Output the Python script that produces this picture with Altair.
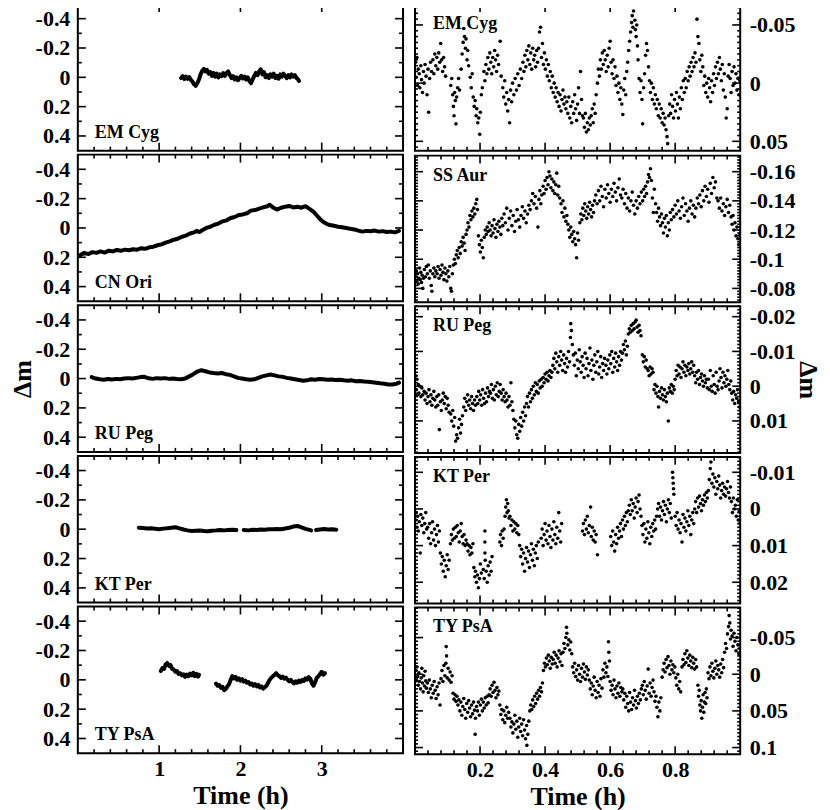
import math
import altair as alt
import pandas as pd

FONT = "Liberation Serif"
NAMES = ["EM Cyg", "CN Ori", "RU Peg", "KT Per", "TY PsA"]
RIGHT_NAMES = ["EM Cyg", "SS Aur", "RU Peg", "KT Per", "TY PsA"]

# ---------------- left column: (time [h], dm [0.001 mag]) ----------------
EMCYG_L = [(1.27,5),(1.29,-8),(1.31,12),(1.33,-4),(1.35,10),(1.37,-2),(1.39,18),(1.41,30),(1.43,48),(1.45,58),(1.47,40),(1.49,15),(1.51,-20),(1.53,-45),(1.55,-58),(1.57,-40),(1.59,-50),(1.61,-25),(1.63,-35),(1.65,-10),(1.67,-30),(1.69,-5),(1.71,-25),(1.73,0),(1.75,-20),(1.77,-8),(1.79,-28),(1.81,-10),(1.83,-30),(1.85,-40),(1.87,-15),(1.89,5),(1.91,-8),(1.93,15),(1.95,0),(1.97,20),(1.99,5),(2.01,-10),(2.03,8),(2.05,-5),(2.07,15),(2.09,0),(2.11,25),(2.13,40),(2.15,15),(2.17,-10),(2.19,-30),(2.21,-15),(2.23,-40),(2.25,-55),(2.27,-20),(2.29,-35),(2.31,0),(2.33,-15),(2.35,5),(2.37,-20),(2.39,-5),(2.41,-25),(2.43,5),(2.45,-10),(2.47,10),(2.49,-20),(2.51,-5),(2.53,-25),(2.55,-10),(2.57,5),(2.59,-15),(2.61,0),(2.63,-20),(2.65,-5),(2.67,-15),(2.69,5),(2.71,15),(2.72,25)]
CNORI_L = [(0.03,185),(0.08,170),(0.13,178),(0.18,165),(0.23,170),(0.28,160),(0.33,168),(0.38,155),(0.43,160),(0.48,150),(0.53,156),(0.58,148),(0.63,152),(0.68,145),(0.73,148),(0.78,138),(0.83,142),(0.88,132),(0.93,128),(0.98,118),(1.03,112),(1.08,100),(1.13,92),(1.18,80),(1.23,74),(1.28,60),(1.33,52),(1.38,38),(1.43,30),(1.46,20),(1.50,28),(1.53,15),(1.58,0),(1.63,-8),(1.68,-22),(1.73,-30),(1.78,-45),(1.83,-52),(1.88,-68),(1.93,-75),(1.98,-88),(2.03,-92),(2.08,-100),(2.13,-118),(2.18,-122),(2.23,-132),(2.28,-140),(2.33,-148),(2.36,-158),(2.40,-140),(2.45,-125),(2.50,-138),(2.55,-145),(2.60,-150),(2.65,-140),(2.70,-145),(2.75,-138),(2.80,-148),(2.85,-130),(2.90,-110),(2.94,-85),(2.98,-60),(3.02,-40),(3.06,-28),(3.10,-20),(3.15,-15),(3.20,-8),(3.25,-5),(3.30,0),(3.35,5),(3.40,10),(3.45,18),(3.50,25),(3.55,20),(3.60,22),(3.65,18),(3.70,25),(3.75,22),(3.80,28),(3.85,25),(3.90,30),(3.95,20)]
RUPEG_L = [(0.17,-10),(0.22,0),(0.27,5),(0.32,8),(0.37,3),(0.42,6),(0.47,2),(0.52,5),(0.57,0),(0.62,-3),(0.67,0),(0.72,-5),(0.77,-10),(0.82,-12),(0.87,-2),(0.92,2),(0.97,-3),(1.02,0),(1.07,-3),(1.12,2),(1.17,0),(1.22,3),(1.27,5),(1.32,0),(1.37,-15),(1.42,-30),(1.47,-48),(1.52,-57),(1.57,-50),(1.62,-42),(1.67,-38),(1.72,-35),(1.77,-38),(1.82,-30),(1.87,-25),(1.92,-15),(1.97,-5),(2.02,0),(2.07,5),(2.12,8),(2.17,5),(2.22,-5),(2.27,-15),(2.32,-22),(2.37,-28),(2.42,-22),(2.47,-15),(2.52,-12),(2.57,-5),(2.62,0),(2.67,5),(2.72,10),(2.77,15),(2.82,12),(2.87,5),(2.92,8),(2.97,3),(3.02,5),(3.07,8),(3.12,6),(3.17,10),(3.22,8),(3.27,12),(3.32,15),(3.37,12),(3.42,18),(3.47,16),(3.52,20),(3.57,22),(3.62,25),(3.67,28),(3.72,32),(3.77,35),(3.82,40),(3.87,40),(3.92,35),(3.95,28)]
KTPER_L1 = [(0.75,-10),(0.80,-8),(0.85,-5),(0.90,-6),(0.95,-3),(1.00,0),(1.05,-4),(1.10,-6),(1.15,-10),(1.20,-13),(1.25,-6),(1.30,2),(1.35,8),(1.40,12),(1.45,10),(1.50,9),(1.55,12),(1.60,14),(1.65,10),(1.70,8),(1.75,5),(1.80,8),(1.85,5),(1.90,4),(1.95,6)]
KTPER_L2 = [(2.04,5),(2.10,8),(2.15,4),(2.20,5),(2.25,2),(2.30,3),(2.35,1),(2.40,0),(2.45,-2),(2.50,0),(2.55,-5),(2.60,-10),(2.65,-18),(2.70,-22),(2.75,-12),(2.80,-2),(2.85,5),(2.87,8)]
KTPER_L3 = [(2.93,6),(2.98,2),(3.03,-2),(3.08,2),(3.13,0),(3.18,3)]
TYPSA_L1 = [(1.02,-60),(1.04,-80),(1.06,-75),(1.08,-105),(1.10,-115),(1.12,-95),(1.14,-100),(1.16,-75),(1.18,-70),(1.20,-55),(1.22,-60),(1.24,-40),(1.26,-45),(1.28,-30),(1.30,-38),(1.32,-20),(1.34,-35),(1.36,-25),(1.38,-42),(1.40,-30),(1.42,-48),(1.44,-25),(1.46,-40),(1.48,-22),(1.49,-35)]
TYPSA_L2 = [(1.70,25),(1.72,40),(1.74,35),(1.76,55),(1.78,48),(1.80,70),(1.82,62),(1.84,45),(1.86,30),(1.88,0),(1.90,-25),(1.92,-10),(1.94,-20),(1.96,0),(1.98,-10),(2.00,5),(2.02,-5),(2.04,12),(2.06,5),(2.08,20),(2.10,15),(2.12,32),(2.14,25),(2.16,40),(2.18,30),(2.20,45),(2.22,35),(2.24,52),(2.26,45),(2.28,60),(2.30,50),(2.32,40),(2.34,20),(2.36,0),(2.38,-15),(2.40,-25),(2.42,-35),(2.44,-45),(2.46,-30),(2.48,-25),(2.50,-12),(2.52,-22),(2.54,-8),(2.56,-15),(2.58,0),(2.60,10),(2.62,0),(2.64,15),(2.66,25),(2.68,10),(2.70,20),(2.72,5),(2.74,15),(2.76,0),(2.78,8),(2.80,-10),(2.82,-2),(2.84,-18),(2.86,-8),(2.88,25),(2.90,40),(2.92,15),(2.94,-15),(2.96,-25),(2.98,-40),(3.00,-55),(3.02,-35),(3.04,-45)]

# ---------------- right column: (time [0.001 h], dm [0.0001 mag]) ----------------
EMCYG_R = [(2,-180),(4,-50),(6,-220),(8,20),(10,-120),(13,-80),(15,40),(18,-150),(20,-30),(23,80),(26,-100),(28,0),(31,-160),(34,-60),(37,100),(40,-120),(42,250),(45,-40),(48,-180),(51,-100),(55,-200),(58,-80),(61,-250),(64,-150),(67,-220),(70,-120),(73,-260),(76,-180),(79,-340),(82,-200),(85,-100),(88,-220),(91,-140),(94,-60),(110,20),(113,-40),(116,100),(118,200),(120,280),(122,80),(124,150),(126,350),(128,120),(131,40),(134,-40),(137,60),(142,-120),(145,-250),(148,-350),(150,-470),(152,-400),(155,-300),(157,-380),(160,-200),(162,-280),(165,-150),(170,-50),(173,40),(176,-80),(179,120),(182,200),(185,150),(188,280),(190,220),(193,340),(196,300),(199,440),(201,250),(204,100),(207,40),(212,-100),(215,-20),(218,-160),(221,-80),(224,-220),(227,-120),(230,-260),(233,-180),(236,-80),(239,-220),(242,-140),(245,-280),(248,-200),(251,-100),(254,-240),(257,-160),(262,-360),(265,-60),(270,40),(273,120),(276,-20),(279,180),(282,80),(285,240),(288,140),(291,340),(294,60),(297,160),(300,0),(304,100),(308,-40),(312,60),(316,-80),(320,20),(324,-120),(328,-40),(332,-180),(335,-100),(338,-240),(341,-140),(344,-280),(347,-200),(350,-320),(353,-160),(356,-260),(359,-120),(362,-300),(365,-200),(368,-240),(371,-140),(374,-280),(377,-180),(380,-300),(383,-440),(386,-480),(389,-220),(392,-340),(395,-160),(398,-260),(401,-120),(404,-200),(407,-60),(410,-160),(413,-20),(416,-100),(419,40),(422,-60),(425,80),(428,0),(431,120),(434,40),(437,160),(440,80),(443,200),(446,100),(449,240),(452,140),(455,60),(458,180),(461,120),(464,220),(467,160),(470,260),(473,120),(476,300),(479,200),(482,340),(485,160),(488,260),(491,100),(494,220),(497,320),(500,180),(503,40),(506,260),(509,-100),(512,140),(515,280),(518,300),(521,380),(524,260),(527,420),(530,340),(533,400),(536,300),(539,360),(542,280),(545,220),(548,340),(551,180),(554,260),(557,100),(561,0),(564,-120),(567,-60),(570,-200),(573,-120),(576,-260),(579,-160),(582,-280),(585,-200),(588,-100),(591,-240),(594,-140),(597,-300),(600,-360),(603,-180),(606,-80),(609,-200),(612,-40),(615,-140),(618,20),(621,-60),(624,80),(627,0),(630,140),(633,40),(636,180),(639,270),(642,60),(645,-40),(648,100),(651,-100),(654,-180),(657,-280),(660,-360),(663,-440),(666,-520),(668,-580),(670,-480),(672,-620),(674,-660),(676,-540),(678,-460),(680,-400),(682,-500),(684,-320),(686,-200),(689,-40),(692,80),(695,-20),(698,140),(700,350),(703,40),(706,-80),(709,-240),(712,-340),(715,-280),(718,-140),(721,-20),(724,80),(727,0),(730,140),(733,40),(736,180),(739,100),(742,220),(745,140),(748,280),(751,180),(754,300),(757,220),(760,340),(763,260),(766,360),(769,300),(772,400),(775,460),(777,520),(780,280),(783,180),(786,260),(789,100),(792,200),(795,300),(798,140),(801,240),(804,80),(807,180),(810,300),(813,120),(816,220),(819,40),(822,140),(825,-20),(828,80),(831,-40),(834,40),(837,-100),(840,-20),(843,-140),(846,-60),(849,-180),(852,-100),(855,-220),(858,-140),(861,-260),(864,-180),(867,-550),(870,-400),(873,-340),(876,-200),(879,-100),(882,-240),(885,-140),(888,20),(891,-60),(894,80),(897,0),(900,120),(903,-40),(906,40),(909,160),(912,-20),(915,80),(918,-80),(921,20),(924,-140),(927,-40),(930,-180),(933,-80),(936,-220),(939,-120),(942,-20),(945,-160),(948,60),(951,-80),(954,120),(957,300),(960,220),(963,-60),(966,-160),(969,-40),(972,80),(975,-100),(978,20),(981,-140),(984,0),(987,-80),(990,60),(993,-40),(996,100),(999,-20)]
SSAUR_R = [(2,-880),(4,-920),(6,-850),(8,-900),(10,-830),(12,-870),(14,-940),(16,-860),(18,-910),(20,-840),(22,-890),(24,-800),(26,-870),(29,-930),(32,-880),(35,-950),(38,-900),(41,-960),(44,-870),(47,-920),(50,-820),(52,-780),(55,-900),(58,-940),(61,-880),(64,-920),(68,-900),(71,-950),(74,-870),(77,-930),(80,-890),(83,-960),(86,-910),(89,-860),(92,-940),(95,-900),(98,-850),(101,-920),(104,-880),(107,-950),(110,-800),(112,-780),(115,-900),(118,-960),(121,-1000),(124,-970),(127,-1030),(130,-1060),(133,-1010),(136,-1080),(139,-1040),(142,-1120),(145,-1090),(148,-1150),(151,-1110),(154,-1060),(157,-1170),(160,-1200),(163,-1250),(166,-1220),(169,-1300),(172,-1270),(175,-1330),(178,-1290),(181,-1350),(184,-1310),(187,-1380),(190,-1410),(192,-1340),(195,-1160),(198,-1100),(201,-1050),(204,-1130),(207,-1080),(210,-1010),(213,-1150),(216,-1200),(219,-1170),(222,-1220),(225,-1190),(228,-1250),(231,-1200),(234,-1160),(237,-1230),(240,-1180),(243,-1270),(246,-1210),(249,-1150),(252,-1240),(255,-1190),(258,-1260),(261,-1220),(264,-1170),(267,-1280),(270,-1230),(274,-1310),(278,-1250),(282,-1350),(286,-1200),(290,-1280),(294,-1330),(298,-1230),(302,-1300),(306,-1190),(310,-1260),(314,-1340),(318,-1270),(322,-1220),(326,-1300),(330,-1360),(334,-1280),(338,-1330),(342,-1250),(346,-1310),(350,-1370),(354,-1340),(358,-1400),(362,-1450),(366,-1380),(370,-1430),(374,-1350),(378,-1220),(381,-1410),(384,-1470),(387,-1380),(390,-1440),(394,-1500),(397,-1450),(400,-1540),(403,-1480),(406,-1560),(409,-1510),(412,-1600),(415,-1570),(418,-1490),(421,-1550),(424,-1470),(427,-1530),(430,-1450),(433,-1510),(436,-1590),(439,-1440),(442,-1500),(445,-1420),(449,-1380),(452,-1320),(455,-1400),(458,-1290),(461,-1350),(464,-1260),(467,-1300),(470,-1240),(473,-1200),(476,-1150),(479,-1220),(482,-1170),(485,-1120),(488,-1190),(491,-1140),(494,-1100),(497,-1010),(500,-1180),(503,-1130),(507,-1250),(510,-1310),(513,-1270),(516,-1350),(519,-1300),(522,-1380),(525,-1330),(528,-1280),(531,-1360),(534,-1310),(537,-1390),(540,-1340),(543,-1290),(546,-1370),(549,-1320),(552,-1400),(556,-1440),(560,-1380),(564,-1470),(568,-1400),(572,-1500),(576,-1430),(580,-1360),(584,-1480),(588,-1420),(592,-1510),(596,-1450),(600,-1390),(604,-1480),(608,-1430),(612,-1520),(616,-1460),(620,-1400),(624,-1490),(628,-1550),(632,-1440),(636,-1420),(640,-1480),(644,-1380),(648,-1450),(652,-1350),(656,-1420),(660,-1330),(664,-1400),(668,-1460),(672,-1370),(676,-1310),(680,-1400),(684,-1350),(688,-1430),(692,-1380),(696,-1460),(700,-1400),(703,-1480),(706,-1430),(709,-1500),(712,-1450),(715,-1530),(718,-1580),(721,-1560),(724,-1620),(727,-1540),(730,-1420),(733,-1320),(736,-1480),(740,-1380),(743,-1320),(746,-1260),(749,-1350),(752,-1290),(755,-1230),(758,-1310),(761,-1250),(764,-1180),(767,-1280),(770,-1220),(773,-1300),(776,-1160),(779,-1250),(782,-1200),(785,-1320),(788,-1270),(792,-1340),(796,-1290),(800,-1370),(804,-1310),(808,-1400),(812,-1330),(816,-1280),(820,-1360),(824,-1420),(828,-1300),(832,-1380),(836,-1330),(840,-1260),(844,-1350),(848,-1400),(852,-1310),(856,-1370),(860,-1290),(864,-1350),(868,-1420),(872,-1380),(876,-1440),(880,-1360),(884,-1470),(888,-1400),(892,-1500),(896,-1430),(900,-1480),(904,-1390),(908,-1520),(912,-1450),(916,-1560),(920,-1490),(924,-1530),(928,-1420),(932,-1400),(936,-1350),(940,-1420),(944,-1330),(948,-1380),(952,-1300),(956,-1360),(960,-1410),(964,-1320),(968,-1370),(972,-1290),(975,-1240),(978,-1300),(981,-1200),(984,-1250),(987,-1160),(990,-1220),(993,-1140),(996,-1100),(999,-1170)]
RUPEG_R = [(2,-30),(4,10),(6,-20),(8,25),(10,-5),(12,20),(15,0),(18,30),(21,5),(24,25),(28,15),(31,40),(34,20),(37,50),(40,30),(43,10),(46,45),(49,25),(52,55),(55,35),(58,15),(61,40),(64,60),(67,30),(70,55),(73,25),(75,125),(78,45),(81,70),(84,40),(87,20),(90,50),(93,30),(96,65),(99,35),(102,55),(105,75),(110,80),(113,100),(116,70),(119,115),(122,90),(125,158),(128,140),(131,150),(134,120),(137,95),(140,135),(143,110),(146,85),(150,60),(153,35),(156,70),(159,45),(162,25),(165,55),(168,40),(171,65),(174,30),(177,50),(180,70),(183,40),(186,55),(190,30),(193,50),(196,15),(199,40),(202,25),(205,55),(208,10),(211,35),(214,50),(217,20),(220,45),(223,5),(226,30),(229,15),(232,20),(235,-5),(238,35),(241,10),(244,40),(247,0),(250,25),(253,-10),(256,30),(259,15),(262,-5),(265,20),(268,40),(271,10),(274,30),(277,45),(280,20),(283,40),(286,60),(289,30),(292,55),(295,-10),(298,45),(301,70),(304,95),(307,120),(310,100),(313,140),(316,150),(319,110),(322,130),(325,90),(328,115),(331,75),(334,100),(337,60),(340,85),(343,50),(346,30),(349,60),(352,20),(355,45),(358,10),(361,35),(364,0),(367,25),(370,-10),(373,15),(376,-5),(379,20),(382,-15),(385,5),(388,-20),(391,0),(394,-25),(397,-10),(400,-35),(403,-20),(406,-40),(409,-15),(412,-30),(415,-45),(418,-25),(421,-40),(424,-60),(427,-80),(430,-50),(433,-95),(436,-70),(439,-40),(442,-85),(445,-60),(448,-100),(451,-75),(454,-45),(457,-90),(460,-65),(463,-40),(466,-80),(469,-55),(472,-100),(475,-70),(478,-140),(479,-180),(481,-160),(484,-120),(487,-90),(490,-60),(493,-95),(496,-30),(499,-75),(502,-50),(505,-105),(508,-70),(511,-40),(514,-85),(517,-60),(520,-25),(523,-95),(526,-50),(529,-80),(532,-30),(535,-65),(538,-110),(541,-45),(544,-75),(547,-20),(550,-60),(553,-90),(556,-40),(559,-70),(562,-100),(565,-35),(568,-55),(571,-85),(574,-25),(577,-65),(580,-45),(583,-80),(587,-60),(590,-35),(593,-75),(596,-50),(599,-90),(602,-65),(605,-100),(608,-40),(611,-80),(614,-55),(617,-95),(620,-70),(623,-45),(626,-85),(629,-60),(632,-100),(635,-75),(638,-95),(641,-120),(644,-105),(647,-130),(650,-90),(653,-115),(656,-150),(659,-165),(662,-155),(665,-175),(668,-160),(671,-180),(674,-165),(677,-185),(680,-190),(683,-170),(686,-155),(689,-175),(692,-160),(695,-145),(699,-90),(702,-70),(705,-85),(708,-55),(711,-75),(714,-50),(717,-45),(720,-30),(723,-55),(726,-35),(729,-50),(732,-40),(735,10),(738,-5),(741,20),(744,0),(747,30),(749,60),(752,15),(755,35),(758,5),(761,25),(764,40),(767,10),(770,30),(773,45),(776,20),(779,100),(782,5),(785,15),(788,-5),(791,20),(794,0),(797,10),(800,-20),(803,-45),(806,-30),(809,-60),(812,-35),(815,-55),(818,-25),(821,-50),(824,-70),(827,-40),(830,-60),(833,-30),(836,-55),(839,-45),(842,-65),(845,-35),(848,-50),(851,-70),(854,-40),(857,-60),(860,-30),(863,-10),(866,-40),(869,-20),(872,-45),(875,-5),(878,-25),(881,-35),(884,-15),(887,0),(890,-30),(893,-10),(896,-20),(899,5),(902,-20),(905,10),(908,-45),(911,0),(914,15),(917,-30),(920,-5),(923,20),(926,-40),(929,0),(932,10),(935,-15),(938,-50),(941,-25),(944,5),(947,-40),(950,-10),(953,-30),(956,0),(959,-20),(962,-45),(965,-5),(968,10),(971,-15),(974,20),(977,40),(980,15),(983,50),(986,25),(989,35),(992,10),(995,45),(998,60)]
KTPER_R = [(2,30),(4,10),(6,50),(8,20),(10,60),(13,35),(16,120),(18,15),(21,45),(24,25),(27,65),(30,40),(33,10),(36,55),(39,50),(42,80),(45,40),(48,95),(51,65),(54,35),(57,85),(60,55),(63,100),(66,70),(69,45),(72,90),(75,60),(78,120),(81,150),(84,130),(87,170),(90,140),(93,185),(96,155),(99,125),(102,165),(105,140),(109,95),(112,70),(115,85),(118,55),(121,80),(124,50),(127,75),(130,45),(133,65),(136,90),(139,60),(142,40),(145,75),(148,95),(151,70),(154,100),(157,85),(160,95),(163,115),(166,100),(169,125),(172,105),(175,120),(178,95),(181,160),(184,185),(186,170),(189,200),(192,180),(195,215),(198,190),(201,150),(204,175),(210,165),(213,190),(215,60),(215,90),(215,120),(216,140),(219,170),(222,200),(225,155),(228,180),(231,145),(234,170),(237,130),(261,90),(263,70),(266,100),(268,60),(271,80),(274,55),(277,20),(279,-5),(281,-25),(283,10),(285,-15),(287,5),(289,25),(292,20),(295,45),(298,30),(301,60),(304,35),(307,55),(310,40),(313,65),(316,45),(319,70),(322,100),(325,130),(328,110),(331,150),(334,120),(337,170),(340,135),(343,105),(346,145),(349,115),(352,160),(355,125),(358,95),(361,140),(364,110),(367,155),(370,120),(373,100),(376,135),(379,90),(388,80),(391,55),(394,100),(397,70),(400,40),(403,85),(406,60),(409,95),(412,45),(415,75),(418,105),(421,55),(424,85),(427,35),(430,70),(433,95),(436,50),(439,80),(442,10),(445,60),(448,90),(451,40),(515,60),(518,40),(521,70),(524,30),(527,55),(530,20),(533,65),(536,45),(540,-5),(542,75),(545,50),(548,85),(551,60),(554,90),(557,70),(561,125),(602,75),(605,100),(608,60),(611,90),(614,115),(617,70),(620,95),(623,50),(626,80),(629,60),(632,40),(635,75),(638,30),(641,55),(644,20),(647,45),(650,10),(653,35),(656,5),(659,-10),(662,15),(665,-25),(668,5),(671,-15),(674,25),(677,-5),(680,-30),(683,10),(686,-20),(689,-38),(692,0),(695,20),(698,45),(701,70),(704,40),(707,90),(710,55),(713,80),(716,35),(719,65),(722,95),(725,50),(728,75),(731,40),(734,60),(737,30),(740,55),(743,20),(746,0),(749,-15),(752,20),(755,-5),(758,30),(761,5),(764,-20),(767,15),(770,-10),(773,35),(776,0),(779,-25),(782,10),(785,-15),(788,25),(792,-100),(793,-85),(794,-70),(795,-55),(796,-40),(800,20),(803,45),(806,10),(809,55),(812,30),(815,65),(818,40),(821,90),(824,15),(827,50),(830,25),(833,60),(836,35),(839,5),(842,45),(845,20),(848,70),(851,30),(854,10),(857,40),(860,0),(863,-20),(866,10),(869,-30),(872,-5),(875,-35),(878,-15),(881,5),(884,-25),(887,-10),(890,-38),(893,-20),(896,-45),(899,-30),(902,-50),(905,-80),(908,-110),(910,-128),(913,-70),(916,-95),(919,-60),(922,-85),(925,-40),(928,-75),(931,-55),(934,-90),(937,-65),(940,-30),(943,-50),(946,-70),(949,-40),(952,-60),(955,-35),(958,-55),(961,-75),(964,-45),(967,-30),(970,-60),(973,-20),(976,10),(979,-30),(982,0),(985,-10),(988,20),(991,-25),(994,30),(997,5),(999,40)]
TYPSA_R = [(2,-50),(4,80),(6,-100),(8,30),(10,150),(12,-20),(14,100),(17,200),(19,50),(21,-80),(23,120),(25,240),(27,20),(29,160),(31,-40),(33,90),(35,190),(38,120),(41,250),(44,80),(47,200),(50,320),(53,150),(56,260),(59,100),(62,220),(65,330),(68,170),(71,280),(74,120),(77,420),(80,60),(83,-50),(86,100),(89,-120),(92,20),(95,-150),(96,-377),(97,-250),(99,50),(102,-80),(105,80),(108,-30),(111,110),(114,20),(117,260),(120,340),(123,280),(126,370),(129,300),(132,420),(135,350),(138,500),(141,380),(144,560),(147,440),(150,330),(153,480),(156,600),(159,400),(162,520),(165,360),(168,460),(171,580),(174,420),(177,540),(180,380),(183,490),(185,820),(186,600),(189,440),(192,500),(195,380),(198,560),(201,420),(204,340),(207,500),(210,380),(213,460),(216,320),(219,420),(222,300),(225,390),(228,280),(231,200),(234,300),(237,150),(240,250),(243,110),(246,220),(249,320),(252,180),(255,280),(258,230),(261,420),(264,550),(267,480),(270,620),(273,500),(276,660),(279,560),(282,450),(285,600),(288,520),(292,600),(295,720),(298,650),(301,800),(304,680),(307,560),(310,750),(313,640),(316,860),(319,720),(322,600),(325,780),(328,680),(331,840),(334,620),(337,760),(340,880),(343,700),(344,970),(347,820),(350,640),(353,500),(356,420),(359,480),(362,350),(365,440),(368,300),(371,400),(374,260),(377,340),(380,220),(383,300),(386,180),(389,240),(392,120),(395,-50),(398,-150),(401,-100),(404,-220),(407,-130),(410,-260),(413,-180),(416,-80),(419,-230),(422,-140),(425,-200),(428,-300),(431,-150),(434,-260),(437,-100),(440,-220),(443,-320),(446,-170),(449,-280),(452,-120),(455,-300),(458,-420),(461,-350),(464,-500),(466,-640),(467,-560),(470,-400),(473,-470),(476,-330),(479,-440),(482,-280),(485,-100),(488,-20),(491,-150),(494,30),(497,-60),(500,80),(503,-120),(506,0),(509,100),(512,-80),(515,40),(518,-140),(521,-30),(524,70),(527,-100),(530,10),(533,-60),(536,80),(539,200),(542,120),(545,280),(548,160),(551,40),(554,220),(557,320),(560,100),(563,250),(566,150),(569,300),(572,60),(575,190),(578,-60),(581,40),(584,-150),(587,-20),(590,-100),(593,30),(595,-444),(596,-300),(598,-180),(600,100),(603,220),(606,150),(609,280),(612,80),(615,200),(618,320),(621,160),(624,260),(627,120),(630,300),(633,180),(636,240),(639,200),(642,350),(645,260),(648,450),(651,300),(654,400),(657,500),(660,250),(663,380),(666,480),(669,320),(672,420),(675,220),(678,360),(681,460),(684,300),(687,400),(690,260),(693,350),(696,200),(699,150),(702,280),(705,100),(708,220),(711,340),(714,160),(717,-70),(720,260),(723,120),(726,300),(729,180),(732,80),(735,240),(738,370),(741,300),(744,450),(747,580),(750,380),(753,500),(756,320),(760,40),(763,-60),(766,-150),(769,-30),(772,-200),(775,-90),(778,-240),(781,-120),(784,0),(787,-180),(790,-60),(793,-130),(796,-20),(799,-100),(802,50),(805,150),(808,0),(811,200),(814,100),(817,240),(821,-100),(824,-200),(827,-130),(830,-280),(833,-160),(836,-320),(839,-220),(842,-120),(845,-260),(848,-180),(851,-90),(854,-230),(857,-150),(860,-70),(863,-200),(866,-100),(870,150),(872,300),(874,220),(876,420),(878,500),(880,360),(882,600),(884,450),(886,280),(888,520),(890,380),(892,250),(894,400),(896,200),(898,320),(901,-20),(904,60),(907,-100),(910,20),(913,-150),(916,-40),(919,50),(922,-80),(925,-180),(928,0),(931,-120),(934,-60),(937,40),(940,-140),(943,-20),(946,-200),(949,-90),(952,-300),(955,-420),(958,-350),(961,-550),(964,-650),(966,-800),(968,-700),(970,-480),(972,-600),(975,-520),(978,-380),(981,-560),(984,-450),(987,-320),(990,-500),(993,-400),(996,-280),(999,-350)]

LEFT_SERIES = [[EMCYG_L], [CNORI_L], [RUPEG_L], [KTPER_L1, KTPER_L2, KTPER_L3], [TYPSA_L1, TYPSA_L2]]
RIGHT_SERIES = [EMCYG_R, SSAUR_R, RUPEG_R, KTPER_R, TYPSA_R]

# ---------------- axes ----------------
LEFT_X_DOMAIN = [0, 4]
LEFT_X_MAJOR = [1, 2, 3]
LEFT_X_MINOR = [round(0.2 * i, 2) for i in range(1, 20) if i % 5]
LEFT_Y_DOMAIN = [-0.5, 0.5]
LEFT_Y_MAJOR = [-0.4, -0.2, 0, 0.2, 0.4]
LEFT_Y_MINOR = [-0.3, -0.1, 0.1, 0.3]

RIGHT_X_DOMAIN = [0, 1]
RIGHT_X_MAJOR = [0.2, 0.4, 0.6, 0.8]
RIGHT_X_MINOR = [round(0.04 * i, 2) for i in range(1, 25) if i % 5]
RIGHT_Y_DOMAINS = [[-0.068, 0.058], [-0.171, -0.0705], [-0.023, 0.0192], [-0.0142, 0.0258], [-0.091, 0.109]]
RIGHT_Y_MAJOR = [[-0.05, 0, 0.05], [-0.16, -0.14, -0.12, -0.1, -0.08], [-0.02, -0.01, 0, 0.01], [-0.01, 0, 0.01, 0.02], [-0.05, 0, 0.05, 0.1]]
RIGHT_Y_MINOR_STEP = [0.005, 0.002, 0.001, 0.001, 0.005]


def minor_ticks(dom, step):
    lo, hi = dom
    ks = range(math.ceil(lo / step - 1e-9), math.floor(hi / step + 1e-9) + 1)
    return [round(k * step, 4) for k in ks if k % 10 != 0]


W, H = 326, 147
LABEL_EXPR = "'' + datum.value"
AX_STYLE = dict(labelFont=FONT, labelFontSize=22, labelFontWeight="bold", labelColor="black",
                titleFont=FONT, titleFontSize=26, titleFontWeight="bold", titleColor="black",
                domain=False, grid=False, ticks=False, tickSize=0, labelExpr=LABEL_EXPR)


def label_axis(orient, values, title, label_pad, title_pad):
    kw = dict(AX_STYLE)
    kw.update(orient=orient, values=values, labelPadding=label_pad, title=title)
    if title:
        kw.update(titlePadding=title_pad)
    return alt.Axis(**kw)


def tick_layer(values, xs, ys, side, length):
    c = alt.Chart(pd.DataFrame({"v": values})).mark_rule(color="black", strokeWidth=1.6)
    if side == "bottom":
        return c.encode(x=alt.X("v:Q", scale=xs, axis=None), y=alt.value(H), y2=alt.value(H - length))
    if side == "top":
        return c.encode(x=alt.X("v:Q", scale=xs, axis=None), y=alt.value(0), y2=alt.value(length))
    if side == "left":
        return c.encode(y=alt.Y("v:Q", scale=ys, axis=None), x=alt.value(0), x2=alt.value(length))
    return c.encode(y=alt.Y("v:Q", scale=ys, axis=None), x=alt.value(W), x2=alt.value(W - length))


def panel(col, row):
    left = col == 0
    bottom = row == 4
    name = NAMES[row] if left else RIGHT_NAMES[row]
    if left:
        rows = []
        for s, seg in enumerate(LEFT_SERIES[row]):
            for t, m in seg:
                rows.append({"t": t, "m": m / 1000.0, "seg": s})
        df = pd.DataFrame(rows)
        xdom, xmaj, xmin_ = LEFT_X_DOMAIN, LEFT_X_MAJOR, LEFT_X_MINOR
        ydom, ymaj, ymin_ = LEFT_Y_DOMAIN, LEFT_Y_MAJOR, LEFT_Y_MINOR
        ymin_len = 4
    else:
        df = pd.DataFrame([{"t": t / 1000.0, "m": m / 10000.0, "seg": 0} for t, m in RIGHT_SERIES[row]])
        xdom, xmaj, xmin_ = RIGHT_X_DOMAIN, RIGHT_X_MAJOR, RIGHT_X_MINOR
        ydom, ymaj = RIGHT_Y_DOMAINS[row], RIGHT_Y_MAJOR[row]
        ymin_ = minor_ticks(ydom, RIGHT_Y_MINOR_STEP[row])
        ymin_len = 3

    xs = alt.Scale(domain=xdom, nice=False, zero=False)
    ys = alt.Scale(domain=ydom, nice=False, zero=False, reverse=True)
    ytitle = "Δm" if row == 2 else None

    xax = label_axis("bottom", xmaj, "Time (h)", 5, 3) if bottom else None
    if left:
        yax = label_axis("left", ymaj, ytitle, 8, 0)
    else:
        yax = label_axis("right", ymaj, ytitle, 9, 0)

    if left:
        main = alt.Chart(df).mark_line(color="black", strokeWidth=4, strokeJoin="round",
                                       strokeCap="round", clip=True).encode(detail="seg:N")
    else:
        main = alt.Chart(df).mark_circle(color="black", size=13, opacity=1, clip=True)
    main = main.encode(x=alt.X("t:Q", scale=xs, axis=xax), y=alt.Y("m:Q", scale=ys, axis=yax))

    ticks = [
        tick_layer(xmaj, xs, ys, "bottom", 8), tick_layer(xmin_, xs, ys, "bottom", 4),
        tick_layer(xmaj, xs, ys, "top", 8), tick_layer(xmin_, xs, ys, "top", 4),
        tick_layer(ymaj, xs, ys, "left", 8), tick_layer(ymin_, xs, ys, "left", ymin_len),
        tick_layer(ymaj, xs, ys, "right", 8), tick_layer(ymin_, xs, ys, "right", ymin_len),
    ]
    lab = alt.Chart(pd.DataFrame({"name": [name]})).mark_text(
        font=FONT, fontSize=18, fontWeight="bold", color="black", align="left", baseline="alphabetic"
    ).encode(
        text="name:N",
        x=alt.value(17 if left else 18),
        y=alt.value(H - 13 if left else 25),
    )
    return alt.layer(main, *ticks, lab).resolve_axis(x="independent", y="independent").properties(width=W, height=H)


left_col = alt.vconcat(*[panel(0, r) for r in range(5)], spacing=0)
right_col = alt.vconcat(*[panel(1, r) for r in range(5)], spacing=0)

chart = alt.hconcat(left_col, right_col, spacing=8).properties(
    padding={"left": 0, "top": -7, "right": 0, "bottom": 0}, background="white"
).configure_view(stroke="black", strokeWidth=2)

chart.save("out.html", embed_options={"renderer": "svg", "actions": False})
